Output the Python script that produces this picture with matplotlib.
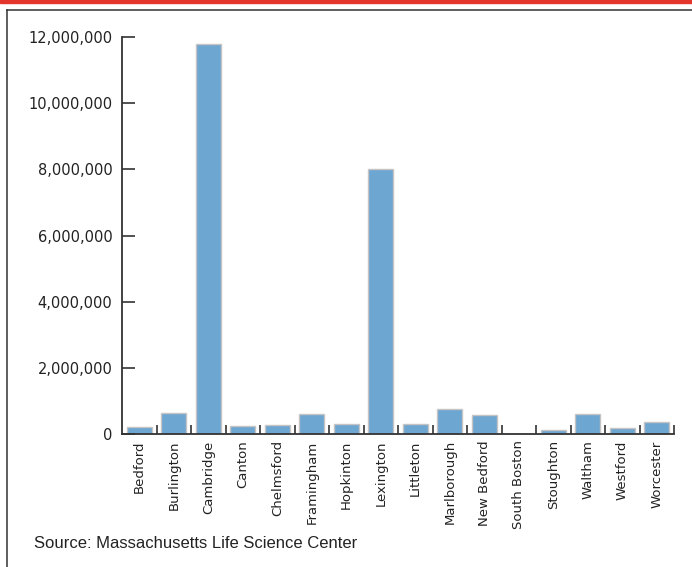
import matplotlib
matplotlib.use("Agg")
import matplotlib.pyplot as plt
from matplotlib.lines import Line2D
from matplotlib.patches import Rectangle
from matplotlib.ticker import FuncFormatter

towns = ["Bedford", "Burlington", "Cambridge", "Canton", "Chelmsford",
         "Framingham", "Hopkinton", "Lexington", "Littleton", "Marlborough",
         "New Bedford", "South Boston", "Stoughton", "Waltham", "Westford",
         "Worcester"]
values = [220000, 630000, 11800000, 240000, 270000,
          600000, 300000, 8000000, 300000, 750000,
          570000, 15000, 120000, 600000, 190000,
          360000]
yticks = [0, 2000000, 4000000, 6000000, 8000000, 10000000, 12000000]

W, H = 692, 567
fig = plt.figure(figsize=(W / 100, H / 100), dpi=100)

# red band + frame
fig.patches.append(Rectangle((0, 1 - 2.7 / H), 1, 2.7 / H, transform=fig.transFigure,
                             color="#e3352b", zorder=0))
fig.lines.append(Line2D([7 / W, 7 / W], [0, 1 - 10 / H], transform=fig.transFigure,
                        color="#333333", lw=1.1))
fig.lines.append(Line2D([7 / W, 1], [1 - 10 / H, 1 - 10 / H], transform=fig.transFigure,
                        color="#333333", lw=1.1))

ax = fig.add_axes([122 / W, 1 - 434 / H, (674 - 122) / W, (434 - 37) / H])
x = range(len(towns))
ax.bar(x, values, width=0.73, color="#6da6d0", edgecolor="#c4c4c4", linewidth=1)

ax.set_xlim(-0.5, len(towns) - 0.5)
ax.set_ylim(0, 12000000)
ax.set_yticks(yticks)
ax.yaxis.set_major_formatter(FuncFormatter(lambda v, p: f"{int(v):,}"))
ax.set_xticks([i + 0.5 for i in range(len(towns))])
ax.set_xticklabels([])
ax.set_xticks(list(x), minor=True)
ax.set_xticklabels(towns, minor=True, rotation=90, fontsize=9.5, color="#222222")

for s in ["top", "right"]:
    ax.spines[s].set_visible(False)
for s in ["left", "bottom"]:
    ax.spines[s].set_color("#333333")
    ax.spines[s].set_linewidth(1.3)

ax.tick_params(axis="y", direction="in", length=9.4, width=1.2, color="#333333",
               pad=7, labelsize=10.5, labelcolor="#222222")
ax.tick_params(axis="x", which="major", direction="in", length=6.5, width=1.2,
               color="#333333")
ax.tick_params(axis="x", which="minor", length=0, pad=4.5)

fig.text(34 / W, 1 - 544 / H, "Source: Massachusetts Life Science Center",
         fontsize=12, family="Liberation Sans", color="#222222", va="center")

fig.savefig("out.png", dpi=100)
